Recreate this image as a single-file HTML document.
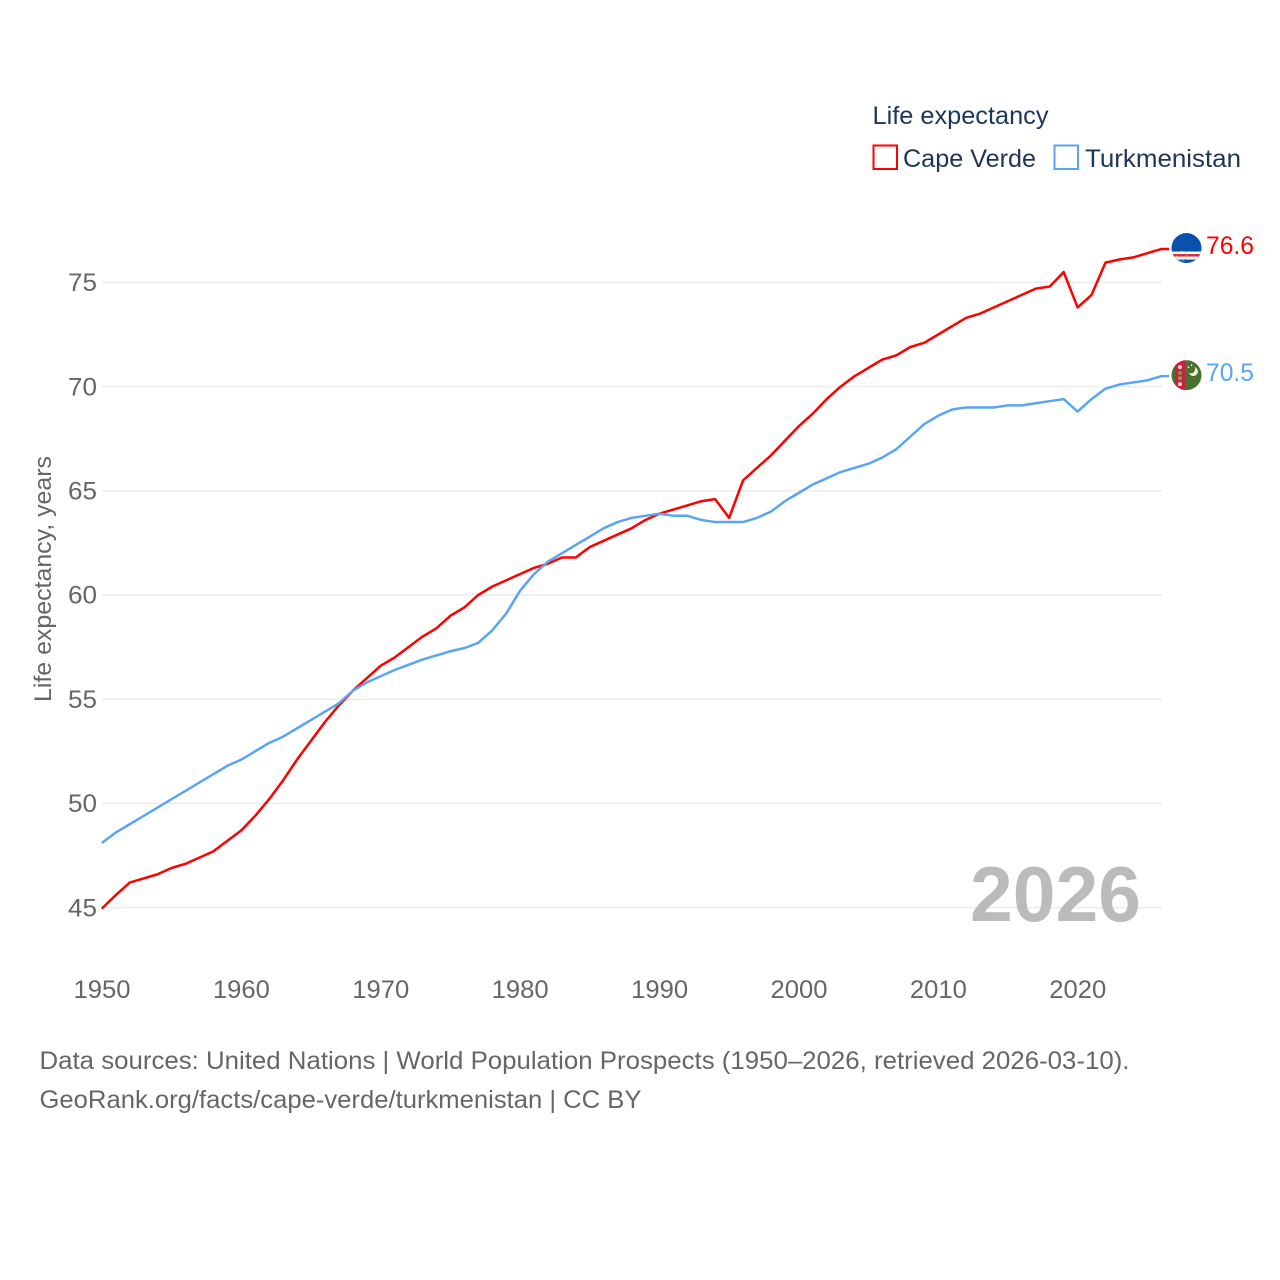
<!DOCTYPE html>
<html lang="en">
<head>
<meta charset="utf-8">
<title>Life expectancy: Cape Verde vs Turkmenistan</title>
<style>
html,body{margin:0;padding:0;background:#fff;}
svg{display:block;font-family:"Liberation Sans",sans-serif;}
</style>
</head>
<body>
<svg id="chart" width="1280" height="1280" viewBox="0 0 1280 1280" xmlns="http://www.w3.org/2000/svg">
  <defs>
    <clipPath id="flag-clip-cv"><circle cx="0" cy="0" r="15"></circle></clipPath>
    <clipPath id="flag-clip-tm"><circle cx="0" cy="0" r="15"></circle></clipPath>
  </defs>
  <rect width="1280" height="1280" fill="#ffffff"></rect>
  <g id="grid"></g>
  <text x="970" y="921" font-size="78" font-weight="700" fill="#bbbbbb" textLength="171" lengthAdjust="spacingAndGlyphs">2026</text>
  <g id="yticks"></g>
  <g id="xticks"></g>
  <text transform="translate(51,702) rotate(-90)" font-size="24" fill="#666666" textLength="246" lengthAdjust="spacingAndGlyphs">Life expectancy, years</text>
  <g id="series"></g>

  <g id="flag-cv" clip-path="url(#flag-clip-cv)">
    <rect x="-15" y="-15" width="30" height="30" fill="#0a50ad"></rect>
    <rect x="-15" y="3.5" width="30" height="8" fill="#ffffff"></rect>
    <rect x="-15" y="6" width="30" height="2.5" fill="#d9273a"></rect>
    <circle cx="-5" cy="8" r="5" fill="none" stroke="#c9b458" stroke-width="1" stroke-dasharray="1 1.5"></circle>
  </g>
  <g id="flag-tm" clip-path="url(#flag-clip-tm)">
    <rect x="-15" y="-15" width="30" height="30" fill="#4a7030"></rect>
    <rect x="-11.5" y="-15" width="10" height="30" fill="#cc1f3c"></rect>
    <circle cx="-6.5" cy="-8" r="2" fill="#e8d6d0"></circle>
    <circle cx="-6.5" cy="-2" r="2" fill="#7f9a5a"></circle>
    <circle cx="-6.5" cy="3" r="2" fill="#7f9a5a"></circle>
    <circle cx="-6.5" cy="9" r="2" fill="#e8d6d0"></circle>
    <path d="M8-8a4.5 4.5 0 1 1-5.5 5.5a4 4 0 0 0 5.5-5.5z" fill="#f2f2ea"></path>
    <circle cx="2" cy="-8" r="0.9" fill="#f2f2ea"></circle>
    <circle cx="5" cy="-10" r="0.9" fill="#f2f2ea"></circle>
  </g>
  <text id="label-cv" x="1206" y="254" font-size="25" fill="#ff0000" textLength="48" lengthAdjust="spacingAndGlyphs"></text>
  <text id="label-tm" x="1206" y="381" font-size="25" fill="#5aa5f2" textLength="48" lengthAdjust="spacingAndGlyphs"></text>

  <g>
    <text x="872.5" y="124" font-size="25" fill="#1d3557" textLength="176" lengthAdjust="spacingAndGlyphs">Life expectancy</text>
    <rect x="873.5" y="145.5" width="23.5" height="23.5" fill="#ffffff" stroke="#ff0000" stroke-width="2"></rect>
    <text x="903" y="167" font-size="25" fill="#1d3557" textLength="133" lengthAdjust="spacingAndGlyphs">Cape Verde</text>
    <rect x="1054.5" y="145.5" width="23.5" height="23.5" fill="#ffffff" stroke="#5aa5f2" stroke-width="2"></rect>
    <text x="1085" y="167" font-size="25" fill="#1d3557" textLength="156" lengthAdjust="spacingAndGlyphs">Turkmenistan</text>
  </g>

  <text x="39.5" y="1069" font-size="25" fill="#666666" textLength="1090" lengthAdjust="spacingAndGlyphs">Data sources: United Nations | World Population Prospects (1950–2026, retrieved 2026-03-10).</text>
  <text x="39.5" y="1108" font-size="25" fill="#666666" textLength="602" lengthAdjust="spacingAndGlyphs">GeoRank.org/facts/cape-verde/turkmenistan | CC BY</text>
</svg>
<script>
const startYear = 1950;
const xTickYears = [1950, 1960, 1970, 1980, 1990, 2000, 2010, 2020];
const yTickValues = [45, 50, 55, 60, 65, 70, 75];
const capeVerde = [44.95,45.6,46.2,46.4,46.6,46.9,47.1,47.4,47.7,48.2,48.7,49.4,50.2,51.1,52.1,53.0,53.9,54.7,55.4,56.0,56.6,57.0,57.5,58.0,58.4,59.0,59.4,60.0,60.4,60.7,61.0,61.3,61.5,61.8,61.8,62.3,62.6,62.9,63.2,63.6,63.9,64.1,64.3,64.5,64.6,63.7,65.5,66.1,66.7,67.4,68.1,68.7,69.4,70.0,70.5,70.9,71.3,71.5,71.9,72.1,72.5,72.9,73.3,73.5,73.8,74.1,74.4,74.7,74.8,75.5,73.8,74.4,75.95,76.1,76.2,76.4,76.6];
const turkmenistan = [48.1,48.6,49.0,49.4,49.8,50.2,50.6,51.0,51.4,51.8,52.1,52.5,52.9,53.2,53.6,54.0,54.4,54.8,55.4,55.8,56.1,56.4,56.65,56.9,57.1,57.3,57.45,57.7,58.3,59.1,60.2,61.0,61.6,62.0,62.4,62.8,63.2,63.5,63.7,63.8,63.9,63.8,63.8,63.6,63.5,63.5,63.5,63.7,64.0,64.5,64.9,65.3,65.6,65.9,66.1,66.3,66.6,67.0,67.6,68.2,68.6,68.9,69.0,69.0,69.0,69.1,69.1,69.2,69.3,69.4,68.8,69.4,69.9,70.1,70.2,70.3,70.5];

const NS = 'http://www.w3.org/2000/svg';
const xScale = (year) => 101.8 + (year - 1950) * 13.94;
const yScale = (value) => 907.6 - (value - 45) * 20.84;
const PLOT_RIGHT = 1162;
const STUB_RIGHT = 1169;

const grid = document.getElementById('grid');
const yticks = document.getElementById('yticks');
const xticks = document.getElementById('xticks');
const seriesGroup = document.getElementById('series');

yTickValues.forEach((v) => {
  const line = document.createElementNS(NS, 'line');
  
  
  line.setAttribute('x1', 102);
  line.setAttribute('x2', PLOT_RIGHT);
  line.setAttribute('y1', yScale(v));
  line.setAttribute('y2', yScale(v));
  line.setAttribute('stroke', '#ececec');
  line.setAttribute('stroke-width', 1.5);
  grid.appendChild(line);

  const t = document.createElementNS(NS, 'text');
  
  
  t.setAttribute('x', 68);
  t.setAttribute('y', yScale(v) + 8.7);
  t.setAttribute('font-size', 25);
  t.setAttribute('fill', '#666666');
  t.setAttribute('textLength', 29);
  t.setAttribute('lengthAdjust', 'spacingAndGlyphs');
  t.textContent = String(v);
  yticks.appendChild(t);
});

xTickYears.forEach((y) => {
  const t = document.createElementNS(NS, 'text');
  
  
  t.setAttribute('x', xScale(y) - 28.3);
  t.setAttribute('y', 998);
  t.setAttribute('font-size', 25);
  t.setAttribute('fill', '#666666');
  t.setAttribute('textLength', 57);
  t.setAttribute('lengthAdjust', 'spacingAndGlyphs');
  t.textContent = String(y);
  xticks.appendChild(t);
});

function drawSeries(values, color, name) {
  const pts = values.map((v, i) => xScale(startYear + i).toFixed(2) + ',' + yScale(v).toFixed(2));
  const last = values[values.length - 1];
  pts.push(STUB_RIGHT + ',' + yScale(last).toFixed(2));
  const p = document.createElementNS(NS, 'polyline');
  
  
  p.setAttribute('points', pts.join(' '));
  p.setAttribute('fill', 'none');
  p.setAttribute('stroke', color);
  p.setAttribute('stroke-width', 2.5);
  p.setAttribute('stroke-linejoin', 'round');
  seriesGroup.appendChild(p);
}
drawSeries(capeVerde, '#ff0000', 'cape-verde-line');
drawSeries(turkmenistan, '#5aa5f2', 'turkmenistan-line');

const lastCv = capeVerde[capeVerde.length - 1];
const lastTm = turkmenistan[turkmenistan.length - 1];
document.getElementById('flag-cv').setAttribute('transform', 'translate(1186.5,' + (yScale(lastCv) - 1) + ')');
document.getElementById('flag-tm').setAttribute('transform', 'translate(1186.5,' + (yScale(lastTm) - 1) + ')');
const labelCv = document.getElementById('label-cv');
const labelTm = document.getElementById('label-tm');
labelCv.setAttribute('y', yScale(lastCv) + 5);
labelTm.setAttribute('y', yScale(lastTm) + 5);
labelCv.textContent = lastCv.toFixed(1);
labelTm.textContent = lastTm.toFixed(1);
</script>
</body>
</html>
